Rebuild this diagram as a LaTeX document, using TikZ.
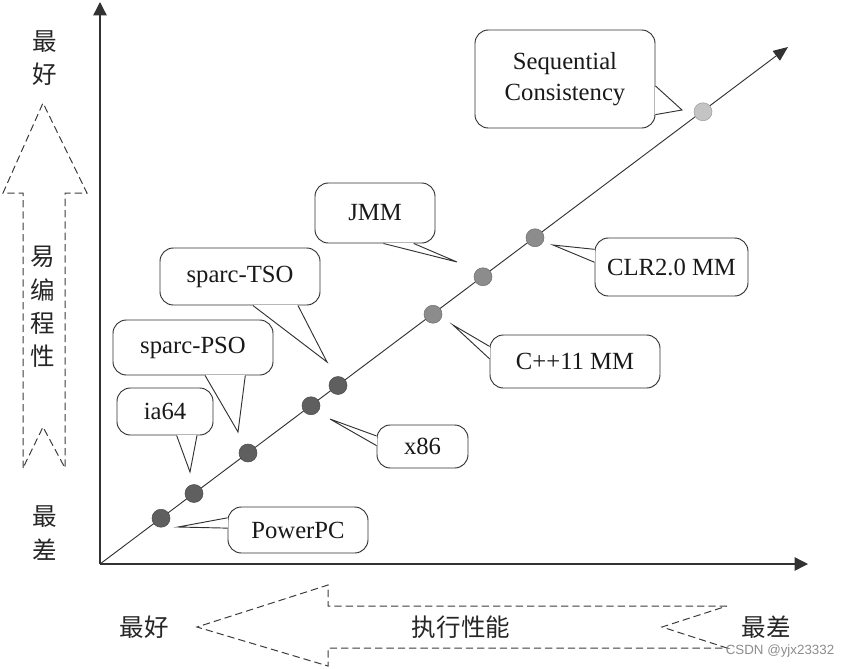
\documentclass[tikz,border=0pt]{standalone}
\usepackage{fontspec}
\setmainfont{Liberation Serif}
\newfontfamily\cjk{Noto Sans CJK SC}
\newfontfamily\wmfont{Liberation Sans}
\usetikzlibrary{arrows.meta,calc}
\definecolor{DotDark}{RGB}{95,95,95}
\definecolor{DotMid}{RGB}{140,140,140}
\definecolor{DotLight}{RGB}{196,196,196}
\definecolor{LineGray}{RGB}{50,50,50}
\definecolor{DashGray}{RGB}{60,60,60}

\begin{document}
\begin{tikzpicture}[x=0.75pt,y=-0.75pt,
  lbl/.style={font=\fontsize{18.5}{23}\selectfont,text=black!90},
  han/.style={font=\cjk\fontsize{18.4}{25}\selectfont,text=black!85,align=center,inner sep=0pt},
  cbox/.style n args={2}{lbl,draw=LineGray,line width=0.7pt,fill=white,rounded corners=10pt,minimum width=#1*0.75pt,minimum height=#2*0.75pt,inner sep=0pt,align=center},
  dot/.style={circle,draw=#1!80!black,fill=#1,line width=0.4pt,minimum size=13.5pt,inner sep=0pt},
  dashbox/.style={draw=DashGray,dash pattern=on 5.5pt off 3pt,line width=0.75pt},
  axis/.style={draw=LineGray,line width=1pt,-{Triangle[length=10pt,width=10pt]}}]
\useasboundingbox (0,0) rectangle (848,668);

% axes
\coordinate (o) at (100,564);
\coordinate (ytop) at (100,2);
\coordinate (xend) at (808,564);
\coordinate (dend) at (788,47);
\draw[axis] (o) -- (ytop);
\draw[axis] (o) -- (xend);
\draw[axis,line width=0.7pt,-{Triangle[length=11pt,width=9pt]}] (o) -- (dend);

% dashed arrows and their labels
\draw[dashbox] (23,468) -- (23,193) -- (3,193) -- (43,103) -- (87,193) -- (65,193) -- (65,468) -- (43,427) -- cycle;
\draw[dashbox] (727,606) -- (328,606) -- (328,585) -- (197,627) -- (328,666) -- (328,648) -- (727,648) -- (662,627) -- cycle;
\node[han] (ybest) at (45,58) {最\\好};
\node[han] (yname) at (43,307) {易\\编\\程\\性};
\node[han] (yworst) at (45,533) {最\\差};
\node[han] (xbest) at (144,627) {最好};
\node[han] (xname) at (461,627) {执行性能};
\node[han] (xworst) at (766,627) {最差};

% callouts
\node[cbox={180}{98}] (scbox) at (565,79) {Sequential\\Consistency};
\node[cbox={120}{60}] (jmmbox) at (375,213) {JMM};
\node[cbox={153}{58}] (clrbox) at (671.5,267) {CLR2.0 MM};
\node[cbox={170}{53}] (cppbox) at (575,361.5) {C++11 MM};
\node[cbox={91}{43}] (x86box) at (422.5,446.5) {x86};
\node[cbox={140}{46}] (ppcbox) at (298,530) {PowerPC};
\node[cbox={96}{47}] (iabox) at (165,411.5) {ia64};
\node[cbox={160}{55}] (psobox) at (193,347.5) {sparc-PSO};
\node[cbox={160}{57}] (tsobox) at (240,276.5) {sparc-TSO};

\coordinate (sctip) at (682,110);
\coordinate (jmmtip) at (457,262);
\coordinate (clrtip) at (553,245);
\coordinate (cpptip) at (453,325);
\coordinate (x86tip) at (330,419);
\coordinate (ppctip) at (178,527);
\coordinate (iatip) at (190,472);
\coordinate (psotip) at (238,432);
\coordinate (tsotip) at (327,362);

\foreach \b/\s/\e/\p/\q in {sc/north east/south east/0.57/0.86,
  jmm/south west/south east/0.57/0.82, clr/north west/south west/0.2/0.42,
  cpp/north west/south west/0.22/0.45, x86/north west/south west/0.26/0.48,
  ppc/north west/south west/0.24/0.46, ia/south west/south east/0.62/0.83,
  pso/south west/south east/0.575/0.825, tso/south west/south east/0.58/0.86} {
  \coordinate (pa) at ($(\b box.\s)!\p!(\b box.\e)$);
  \coordinate (pb) at ($(\b box.\s)!\q!(\b box.\e)$);
  \fill[white] (pa) -- (\b tip) -- (pb) -- cycle;
  \draw[white,line width=1.4pt,shorten <=0.5pt,shorten >=0.5pt] (pa) -- (pb);
  \draw[LineGray,line width=0.7pt] (pa) -- (\b tip) -- (pb);
}

% points on the line
\foreach \n/\x/\c in {ppc/161/DotDark,ia/194/DotDark,pso/248/DotDark,x86/311/DotDark,
  tso/338/DotDark,cpp/433/DotMid,jmm/483/DotMid,clr/535/DotMid,sc/703/DotLight} {
  \node[dot=\c] (\n) at (\x,{564-0.75*(\x-100)}) {};
}

\node[font=\wmfont\fontsize{10}{12}\selectfont,text=black!45] (wm) at (780,651) {CSDN @yjx23332};
\end{tikzpicture}
\end{document}
